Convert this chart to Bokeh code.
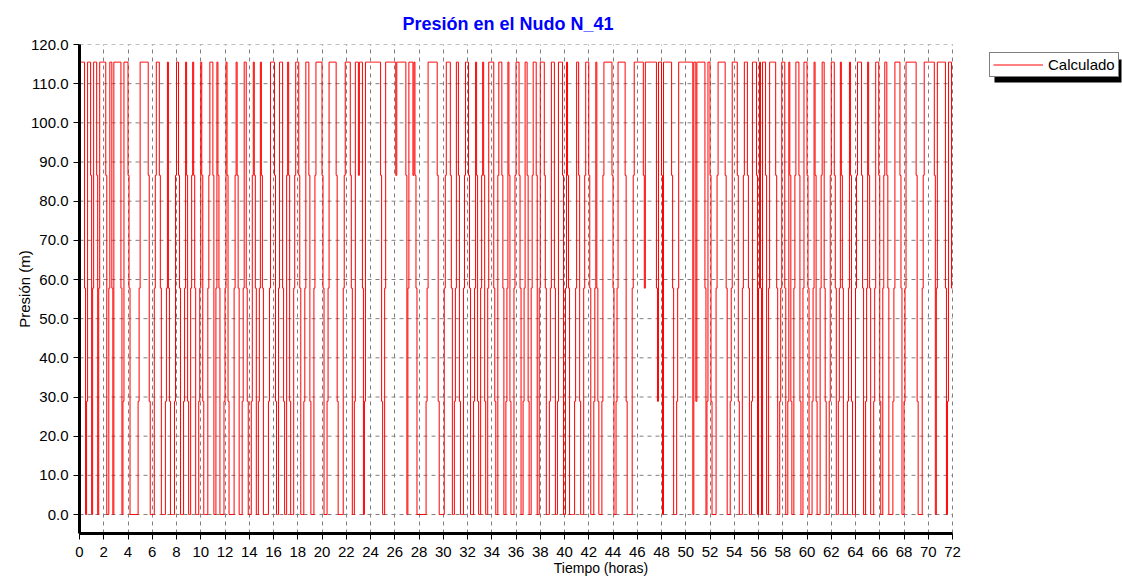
from bokeh.plotting import figure
from bokeh.models import (Range1d, FixedTicker, NumeralTickFormatter, Legend,
                          LegendItem, BoxAnnotation)
from bokeh.embed import file_html
from bokeh.resources import INLINE

title_text = "Presión en el Nudo N_41"
x_label = "Tiempo (horas)"
y_label = "Presión (m)"
series_name = "Calculado"

# pressure plateaus seen in the chart (m)
pressure_levels = [0.0, 28.9, 57.8, 86.6, 115.5]
# one digit per 5-minute report step: index into pressure_levels
report_step_h = 5.0 / 60.0
level_code = (
    "44444" "201" "444" "302" "444" "302" "444444" "3002" "44" "20"
    "4444444" "201" "4444" "320000000012" "44444444" "31000023" "444"
    "32000012" "4" "21000013" "44" "3200012" "4" "310023" "4" "3200012"
    "4" "31000023" "444" "3002" "4" "32000012" "4" "310000023" "4"
    "3200012" "44" "2100013" "4" "320012" "4" "320000012" "4444" "31002"
    "444" "21003" "4" "3100023" "444" "3200012" "444" "3100023" "444444"
    "3200012" "4444444" "310000023" "44444" "32001" "444" "3" "444" "201"
    "444444444444444" "31002" "4444444444" "3" "444444444" "302" "4444"
    "3" "4" "3200000000012" "444444444" "310000023" "4444" "320012" "44"
    "3100023" "444" "3200012" "4" "310023" "4" "31002" "44444" "21003"
    "444" "320012" "4" "3100023" "444" "320012" "44" "310023" "444" "3002"
    "4444" "3200012" "444" "2001" "4444" "3002" "4" "320000012" "44"
    "3100023" "444" "3200012" "4" "2100013" "44444444" "320012" "4444444"
    "310000023" "444444444" "32" "44444444444" "21" "444" "30" "44444444"
    "3200012" "44444444444444" "0" "44" "1" "44444444" "201" "44"
    "31000023" "4444444" "3200012" "44444" "3100023" "444" "32001" "4444"
    "302" "4" "20" "444" "3002" "444444" "320012" "444" "2001" "4" "310023"
    "444" "31002" "444" "3200012" "4" "3100023" "44" "2100013" "444"
    "320012" "4" "32000012" "4" "3100023" "4444" "320012" "4" "3200012"
    "444" "310023" "44" "32000012" "44444" "320012" "4444444444"
    "31000023" "4444444444" "302" "44444444" "201" "444" "2"
)
x_ticks = list(range(0, 73, 2))
y_ticks = [0, 10, 20, 30, 40, 50, 60, 70, 80, 90, 100, 110, 120]

t_start, t_end = 0.0, 72.0
y_min, y_max = -4.85, 120.0
times = [i * report_step_h for i in range(len(level_code))] + [t_end]
values = [pressure_levels[int(c)] for c in level_code]
values.append(values[-1])

FONT = "Liberation Sans"
W, H = 1122, 580
FRAME_L, FRAME_T, FRAME_B = 79, 44, 533
DATA_R = 952          # pixel where the time axis ends (72 h)
# the frame is stretched to the right edge so the legend can sit beside the chart
x_view_end = t_end * (W - FRAME_L) / (DATA_R - FRAME_L)

p = figure(width=W, height=H, output_backend="svg", toolbar_location=None,
           x_range=Range1d(t_start, x_view_end), y_range=Range1d(y_min, y_max),
           min_border_left=FRAME_L, min_border_right=0, min_border_top=FRAME_T,
           min_border_bottom=H - FRAME_B, background_fill_color="white",
           border_fill_color="white")
p.outline_line_color = None

p.title.text = title_text
p.title.text_font = FONT
p.title.text_font_size = "18px"
p.title.text_font_style = "bold"
p.title.text_color = "#0000ff"
p.title.align = "left"
p.title.offset = 323
p.title.standoff = 21

# horizontal grid lines only across the 0-72 h chart area
p.ygrid.visible = False
p.segment(x0=[t_start] * len(y_ticks), x1=[t_end] * len(y_ticks),
          y0=y_ticks, y1=y_ticks, line_color="#808080", line_dash="4 4",
          line_width=1)

r = p.step(times, values, mode="after", line_color="#ff0000", line_width=1)

for ax in (p.xaxis[0], p.yaxis[0]):
    ax.axis_line_color = "black"
    ax.axis_line_width = 3
    ax.major_tick_line_color = "black"
    ax.major_tick_line_width = 1
    ax.major_tick_out = 6
    ax.major_tick_in = 0
    ax.minor_tick_line_color = None
    ax.major_label_text_font = FONT
    ax.major_label_text_font_size = "15px"
    ax.major_label_text_color = "black"
    ax.axis_label_text_font = FONT
    ax.axis_label_text_font_style = "normal"
    ax.axis_label_text_color = "black"

p.xaxis.ticker = FixedTicker(ticks=x_ticks)
p.xaxis.bounds = (t_start, t_end)
p.yaxis.ticker = FixedTicker(ticks=y_ticks)
p.yaxis.formatter = NumeralTickFormatter(format="0.0")
p.xaxis.axis_label = x_label
p.yaxis.axis_label = y_label
p.xaxis.axis_label_text_font_size = "14px"
p.yaxis.axis_label_text_font_size = "15px"
p.xaxis.major_label_standoff = 7
p.xaxis.axis_label_standoff = 0
p.yaxis.major_label_standoff = 5
p.yaxis.axis_label_standoff = -5

p.xgrid.ticker = FixedTicker(ticks=x_ticks)
p.xgrid.grid_line_color = "#808080"
p.xgrid.grid_line_dash = "4 4"
p.xgrid.grid_line_width = 1

# legend with a drop shadow, right of the chart
LEG_X, LEG_BOTTOM = 989 - FRAME_L, FRAME_B - 77
shadow = BoxAnnotation(left=994, right=1121, top=59, bottom=82,
                       left_units="canvas", right_units="canvas",
                       top_units="canvas", bottom_units="canvas",
                       fill_color="black", fill_alpha=1, line_color=None)
p.add_layout(shadow)

legend = Legend(items=[LegendItem(label=series_name, renderers=[r])],
                location=(LEG_X, LEG_BOTTOM), margin=0)
legend.border_line_color = "black"
legend.border_line_width = 1
legend.background_fill_color = "white"
legend.background_fill_alpha = 1
legend.label_text_font = FONT
legend.label_text_font_size = "15px"
legend.label_text_color = "black"
legend.glyph_width = 50
legend.glyph_height = 15
legend.label_standoff = 5
legend.padding = 3
legend.spacing = 0
p.add_layout(legend)

open("out.html", "w").write(file_html(p, INLINE))
